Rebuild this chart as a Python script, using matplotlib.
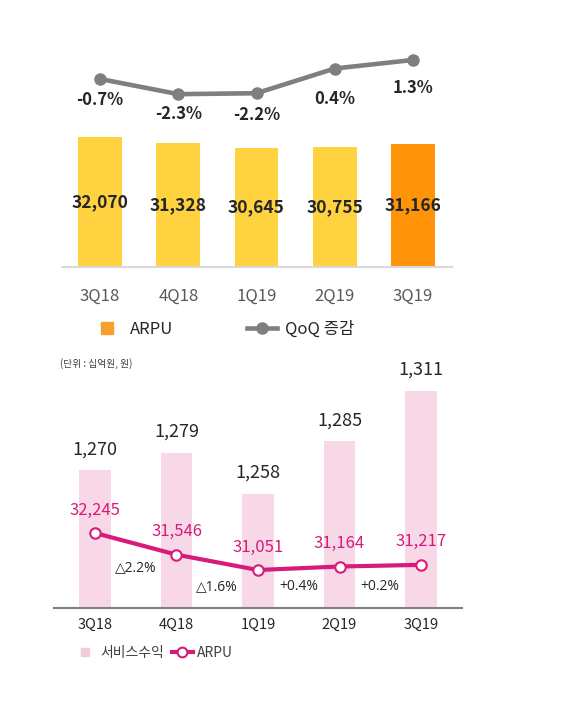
import matplotlib
matplotlib.use("Agg")
import matplotlib.pyplot as plt
from matplotlib.lines import Line2D

plt.rcParams['font.family'] = ['Noto Sans CJK KR', 'DejaVu Sans']

# ── Data ──────────────────────────────────────────────────────────────────────
quarters = ["3Q18", "4Q18", "1Q19", "2Q19", "3Q19"]

# top panel: ARPU bars + QoQ change line
top_arpu = [32070, 31328, 30645, 30755, 31166]
top_arpu_labels = ["32,070", "31,328", "30,645", "30,755", "31,166"]
top_qoq = [-0.7, -2.3, -2.2, 0.4, 1.3]
top_qoq_labels = ["-0.7%", "-2.3%", "-2.2%", "0.4%", "1.3%"]

# bottom panel: service revenue bars + ARPU line
svc_rev = [1270, 1279, 1258, 1285, 1311]
svc_rev_labels = ["1,270", "1,279", "1,258", "1,285", "1,311"]
bot_arpu = [32245, 31546, 31051, 31164, 31217]
bot_arpu_labels = ["32,245", "31,546", "31,051", "31,164", "31,217"]
bot_change_labels = ["△2.2%", "△1.6%", "+0.4%", "+0.2%"]

# ── Colours ───────────────────────────────────────────────────────────────────
YELLOW = "#FFD23F"
ORANGE = "#FF9408"
GRAY = "#7F7F7F"
PINK = "#F8D7E6"
MAGENTA = "#D81B7B"

W, H = 580, 719
fig = plt.figure(figsize=(W / 100, H / 100), dpi=100)


def frac(x0, y_top, x1, y_bot):
    """pixel box -> figure axes rect"""
    return [x0 / W, 1 - y_bot / H, (x1 - x0) / W, (y_bot - y_top) / H]


x = list(range(len(quarters)))

# ── Top panel ────────────────────────────────────────────────────────────────
ax1 = fig.add_axes(frac(62, 40, 452, 267))
colors = [YELLOW] * 4 + [ORANGE]
ax1.bar(x, top_arpu, width=0.56, color=colors, zorder=2)
ax1.set_xlim(-0.486, 4.498)
ax1.set_ylim(15230, 44630)
for xi, v, lab in zip(x, top_arpu, top_arpu_labels):
    ax1.text(xi, (15230 + v) / 2, lab, ha="center", va="center",
             fontsize=12.5, fontweight="bold", color="#262626", zorder=3)
for s in ["top", "right", "left"]:
    ax1.spines[s].set_visible(False)
ax1.spines["bottom"].set_color("#D9D9D9")
ax1.spines["bottom"].set_linewidth(1.5)
ax1.set_yticks([])
ax1.set_xticks(x)
ax1.set_xticklabels(quarters, fontsize=12, color="#595959")
ax1.tick_params(axis="x", length=0, pad=15)

ax1b = ax1.twinx()
ax1b.set_ylim(-20.49, 3.4)
ax1b.plot(x, top_qoq, color=GRAY, lw=3.3, marker="o", markersize=8, zorder=3)
qoq_offsets = [21, 20, 22, 30, 28]
for xi, v, lab, off in zip(x, top_qoq, top_qoq_labels, qoq_offsets):
    ax1b.annotate(lab, (xi, v), xytext=(0, -off * 0.72), textcoords="offset points",
                  ha="center", va="center", fontsize=12, fontweight="bold",
                  color="#262626")
ax1b.axis("off")

handles1 = [
    Line2D([], [], ls="none", marker="s", markersize=9, color="#F7A02E"),
    Line2D([], [], color=GRAY, lw=3.3, marker="o", markersize=8),
]
fig.legend(handles1, ["ARPU", "QoQ 증감"], loc="center left",
           bbox_to_anchor=(92 / W, 1 - 329 / H), ncol=2, frameon=False,
           fontsize=12, handlelength=1.8, handletextpad=0.5, columnspacing=4.4,
           borderpad=0, borderaxespad=0, labelcolor="#262626")

# ── Bottom panel ─────────────────────────────────────────────────────────────
fig.text(60 / W, 1 - 364 / H, "(단위 : 십억원, 원)", fontsize=7,
         color="#404040", va="center", ha="left")

ax2 = fig.add_axes(frac(54, 355, 462, 608))
ax2.bar(x, svc_rev, width=0.39, color=PINK, zorder=1)
ax2.set_xlim(-0.503, 4.503)
ax2.set_ylim(1199, 1329.4)
for xi, v, lab in zip(x, svc_rev, svc_rev_labels):
    ax2.annotate(lab, (xi, v), xytext=(0, 15), textcoords="offset points",
                 ha="center", va="center", fontsize=13, color="#262626")
for s in ["top", "right", "left"]:
    ax2.spines[s].set_visible(False)
ax2.spines["bottom"].set_color("#808080")
ax2.spines["bottom"].set_linewidth(1.5)
ax2.set_yticks([])
ax2.set_xticks(x)
ax2.set_xticklabels(quarters, fontsize=10.5, color="#262626")
ax2.tick_params(axis="x", length=0, pad=7)

ax2b = ax2.twinx()
ax2b.set_ylim(29825, 37989)
ax2b.plot(x, bot_arpu, color=MAGENTA, lw=3, marker="o", markersize=7.5,
          markerfacecolor="white", markeredgecolor=MAGENTA, markeredgewidth=1.5,
          zorder=3)
for xi, v, lab in zip(x, bot_arpu, bot_arpu_labels):
    ax2b.annotate(lab, (xi, v), xytext=(0, 16.5), textcoords="offset points",
                  ha="center", va="center", fontsize=12, color=MAGENTA)
change_y = [568, 587, 587, 587]
for i, (lab, yp) in enumerate(zip(bot_change_labels, change_y)):
    ax2b.text(i + 0.5, 1 - (yp - 355) / (608 - 355), lab,
              transform=ax2b.get_xaxis_transform(),
              fontsize=10, color="#262626", ha="center", va="center",
              family=["Open Sans", "DejaVu Sans"])
ax2b.axis("off")

handles2 = [
    Line2D([], [], ls="none", marker="s", markersize=6, color="#F2CCDD"),
    Line2D([], [], color=MAGENTA, lw=3, marker="o", markersize=7,
           markerfacecolor="white", markeredgecolor=MAGENTA, markeredgewidth=1.5),
]
fig.legend(handles2, ["서비스수익", "ARPU"], loc="center left",
           bbox_to_anchor=(75 / W, 1 - 653 / H), ncol=2, frameon=False,
           fontsize=10, handlelength=1.5, handletextpad=0.3, columnspacing=0.6,
           borderpad=0, borderaxespad=0, labelcolor="#404040")

fig.savefig("out.png", dpi=100)
